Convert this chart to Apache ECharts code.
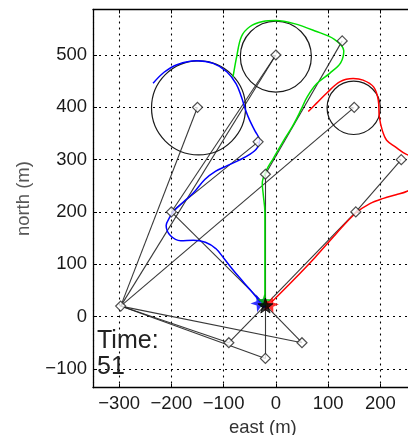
<!DOCTYPE html>
<html>
<head>
<meta charset="utf-8">
<script src="https://cdn.jsdelivr.net/npm/echarts@6/dist/echarts.min.js"></script>
<style>
html,body{margin:0;padding:0;background:#fff;}
#chart{width:408px;height:435px;}
</style>
</head>
<body>
<div id="chart"></div>
<script>
// ---- data ----
const xTickValues = [-300, -200, -100, 0, 100, 200];
const yTickValues = [-100, 0, 100, 200, 300, 400, 500];

const blueTrack = [[-30,28],[-50,52],[-70,75],[-85,93],[-100,112],[-115,130],[-135,142],[-158,146],[-182,145],[-202,155],[-210,174],[-203,190],[-194,203],[-176,220],[-158,236],[-136,262],[-115,278],[-94,288],[-70,299],[-50,310],[-36,322],[-31,337],[-40,355],[-50,375],[-58,395],[-66,420],[-76,445],[-94,468],[-120,484],[-152,489],[-188,482],[-214,467],[-235,446]];
const greenTrack = [[-21,28],[-21,120],[-21,200],[-24,232],[-26,255],[-18,280],[-5,302],[14,335],[32,364],[48,395],[60,420],[78,445],[103,465],[124,485],[130,508],[112,530],[75,546],[35,560],[0,566],[-25,564],[-50,554],[-66,535],[-75,497],[-82,458]];
const redTrack = [[-8,28],[30,66],[75,113],[115,158],[153,198],[180,216],[206,226],[230,233],[250,239],[275,255],[285,285],[270,305],[250,310],[228,325],[212,337],[204,355],[198,382],[196,414],[187,439],[167,452],[148,455],[123,449],[97,427],[78,408],[62,392]];

const nodes = [[-150,400],[0,500],[150,400],[127,527],[-34,334],[-20,272],[-200,200],[240,300],[153,200],[-297,20],[-90,-50],[50,-50],[-20,-80]];
const targetCircles = [[-148,399,90],[0,497,68],[149,399,51]]; // centre x, centre y, radius (m)
const links = [
  [[-297,20],[-150,400]],
  [[-297,20],[0,500]],
  [[-297,20],[150,400]],
  [[-297,20],[-90,-50]],
  [[-297,20],[-20,-80]],
  [[-297,20],[50,-50]],
  [[-200,200],[0,500]],
  [[-200,200],[-34,334]],
  [[-200,200],[-20,22]],
  [[127,527],[-20,272]],
  [[-20,272],[-20,-80]],
  [[240,300],[153,200]],
  [[153,200],[-20,22]],
  [[-90,-50],[-20,22]],
  [[50,-50],[-20,22]]
];
const startBlue = [[-32,27]];
const startGreen = [[-22,30]];
const startRed = [[-10,24]];
const startBlack = [[-20,21]];

const timeLabel = 'Time:\n51';

// ---- chart ----
const STAR = 'path://M0,-10 L2.35,-3.24 L9.51,-3.09 L3.8,1.24 L5.88,8.09 L0,4 L-5.88,8.09 L-3.8,1.24 L-9.51,-3.09 L-2.35,-3.24 Z';
const fmt = v => (v < 0 ? '\u2212' + Math.abs(v) : String(v));
const FONT = 'Liberation Sans, Arial, Helvetica, sans-serif';

const chart = echarts.init(document.getElementById('chart'), null, {renderer: 'canvas'});
const option = {
  animation: false,
  backgroundColor: '#fff',
  grid: {left: 93, top: 9.5, bottom: 47.3, right: -24.6, outerBoundsMode: 'none', containLabel: false},
  xAxis: [{
    type: 'value', min: -350, max: 300, minInterval: 100, maxInterval: 100,
    name: 'east (m)', nameLocation: 'middle', nameGap: 29,
    nameTextStyle: {fontFamily: FONT, fontSize: 18.5, color: '#333'},
    axisLine: {show: true, onZero: false, lineStyle: {color: '#000', width: 1.3}},
    axisTick: {show: true, inside: true, length: 4, lineStyle: {color: '#000'}},
    axisLabel: {fontFamily: FONT, fontSize: 18.5, color: '#1a1a1a', margin: 7,
      showMinLabel: false, showMaxLabel: false,
      formatter: v => (xTickValues.indexOf(v) >= 0 ? fmt(v) : '')},
    splitLine: {show: true, lineStyle: {color: '#000', type: [2, 4], width: 1.1}}
  }, {
    type: 'value', position: 'top', min: -350, max: 300, minInterval: 100, maxInterval: 100,
    axisLine: {show: true, onZero: false, lineStyle: {color: '#000', width: 1.3}},
    axisTick: {show: true, inside: true, length: 4, lineStyle: {color: '#000'}},
    axisLabel: {show: false}, splitLine: {show: false}
  }],
  yAxis: [{
    type: 'value', min: -136, max: 587, minInterval: 100, maxInterval: 100,
    name: 'north (m)', nameLocation: 'middle', nameGap: 60,
    nameTextStyle: {fontFamily: FONT, fontSize: 18.5, color: '#555'},
    axisLine: {show: true, onZero: false, lineStyle: {color: '#000', width: 1.3}},
    axisTick: {show: true, inside: true, length: 4, lineStyle: {color: '#000'}},
    axisLabel: {fontFamily: FONT, fontSize: 18.5, color: '#1a1a1a', margin: 6,
      showMinLabel: false, showMaxLabel: false,
      formatter: v => (yTickValues.indexOf(v) >= 0 ? fmt(v) : '')},
    splitLine: {show: true, lineStyle: {color: '#000', type: [2, 4], width: 1.1}}
  }],
  series: [
    {
      type: 'lines', coordinateSystem: 'cartesian2d', silent: true, z: 3,
      lineStyle: {color: '#222', width: 1.1, opacity: 0.9},
      data: links.map(l => ({coords: l}))
    },
    {
      type: 'custom', z: 3, silent: true,
      data: targetCircles,
      renderItem: (params, api) => {
        const c = api.coord([api.value(0), api.value(1)]);
        const r = api.size([api.value(2), 0])[0];
        return {type: 'circle', shape: {cx: c[0], cy: c[1], r: r},
          style: {fill: 'none', stroke: '#1a1a1a', lineWidth: 1.2}};
      }
    },
    {type: 'line', data: blueTrack, smooth: 0.35, showSymbol: false, z: 4,
      lineStyle: {color: '#0000ff', width: 1.5}},
    {type: 'line', data: greenTrack, smooth: 0.35, showSymbol: false, z: 4,
      lineStyle: {color: '#00e000', width: 1.5}},
    {type: 'line', data: redTrack, smooth: 0.35, showSymbol: false, z: 4,
      lineStyle: {color: '#ff0000', width: 1.5}},
    {type: 'scatter', data: nodes, symbol: 'diamond', symbolSize: 10, z: 5,
      itemStyle: {color: '#fff', borderColor: '#222', borderWidth: 1.2}},
    {type: 'scatter', data: startBlue, symbol: STAR, symbolSize: 17, z: 6, symbolRotate: 20,
      itemStyle: {color: '#0000ff'}},
    {type: 'scatter', data: startGreen, symbol: STAR, symbolSize: 14, z: 6,
      itemStyle: {color: '#00c000'}},
    {type: 'scatter', data: startRed, symbol: STAR, symbolSize: 16, z: 6, symbolRotate: -15,
      itemStyle: {color: '#ff0000'}},
    {type: 'scatter', data: startBlack, symbol: STAR, symbolSize: 15, z: 7,
      itemStyle: {color: '#000', borderColor: '#000', borderWidth: 1}}
  ],
  graphic: [{
    type: 'text', left: 97, top: 328, z: 100,
    style: {text: timeLabel, fontFamily: FONT, fontSize: 25, lineHeight: 26, fill: '#222'}
  }]
};
chart.setOption(option);
</script>
</body>
</html>
